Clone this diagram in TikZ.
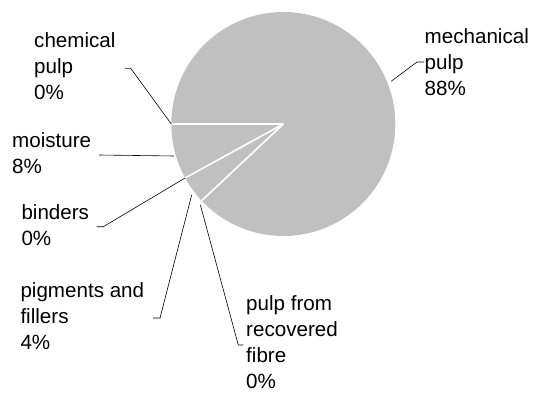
\documentclass[tikz,border=0pt]{standalone}
\usepackage{fontspec}
\setmainfont{Liberation Sans}
\usepackage{tikz}
\usetikzlibrary{calc}
\definecolor{piegray}{RGB}{192,192,192}
\tikzstyle{slice}=[fill=piegray]
\tikzstyle{divider}=[draw=white,line width=1.6pt]
\tikzstyle{leader}=[draw=black,line width=0.6pt]
\tikzstyle{pielabel}=[anchor=north west,inner sep=0pt,align=left,
font=\fontsize{20.6}{26}\selectfont]

\begin{document}
\begin{tikzpicture}[x=1pt,y=1pt]
    \useasboundingbox (0,0) rectangle (534,392);
    % Centre of the pie and the slice borders:
    \coordinate (c) at (283.3,268);
    \coordinate (b_moist) at ($(c)+(180:112)$);
    \coordinate (b_pigm)  at ($(c)+(208.8:112)$);
    \coordinate (b_mech)  at ($(c)+(223.2:112)$);
    % The slices (moisture, pigments and fillers, mechanical pulp):
    \fill[slice] (c) -- (b_moist) arc[start angle=180,end angle=208.8,radius=112] -- cycle;
    \fill[slice] (c) -- (b_pigm) arc[start angle=208.8,end angle=223.2,radius=112] -- cycle;
    \fill[slice] (c) -- (b_mech) arc[start angle=223.2,end angle=540,radius=112] -- cycle;
    \path[divider]
    (c) edge (b_moist)
    (c) edge (b_pigm)
    (c) edge (b_mech);
    % The labels:
    \node (mech)  [pielabel] at (424.5,364.05) {mechanical\\pulp\\88\%};
    \node (chem)  [pielabel] at (34,360.05)  {chemical\\pulp\\0\%};
    \node (moist) [pielabel] at (12,260.05)  {moisture\\8\%};
    \node (bind)  [pielabel] at (21.3,187.75) {binders\\0\%};
    \node (pigm)  [pielabel] at (20.3,110.05) {pigments and\\fillers\\4\%};
    \node (recov) [pielabel] at (246,96.25)  {pulp from\\recovered\\fibre\\0\%};
    % Leader lines from the slices to their labels:
    \coordinate (mech_p)  at ($(c)+(21.6:116)$);
    \coordinate (mech_b)  at (417,330);
    \coordinate (mech_e)  at (424,330);
    \coordinate (chem_p)  at ($(c)+(180:112)$);
    \coordinate (chem_b)  at (130.7,323.7);
    \coordinate (chem_e)  at (125,323.7);
    \coordinate (moist_p) at ($(c)+(196.3:114)$);
    \coordinate (moist_e) at (99,237);
    \coordinate (bind_p)  at ($(c)+(208.8:112)$);
    \coordinate (bind_b)  at (103.3,165.3);
    \coordinate (bind_e)  at (96.7,165.3);
    \coordinate (pigm_p)  at ($(c)+(217.8:116)$);
    \coordinate (pigm_b)  at (160,74);
    \coordinate (pigm_e)  at (153,74);
    \coordinate (recov_p) at ($(c)+(224.4:116)$);
    \coordinate (recov_b) at (238.3,47);
    \coordinate (recov_e) at (243.3,47);
    \draw[leader] (mech_p) -- (mech_b) -- (mech_e);
    \draw[leader] (chem_p) -- (chem_b) -- (chem_e);
    \draw[leader] (moist_p) -- (moist_e);
    \draw[leader] (bind_p) -- (bind_b) -- (bind_e);
    \draw[leader] (pigm_p) -- (pigm_b) -- (pigm_e);
    \draw[leader] (recov_p) -- (recov_b) -- (recov_e);
\end{tikzpicture}
\end{document}
